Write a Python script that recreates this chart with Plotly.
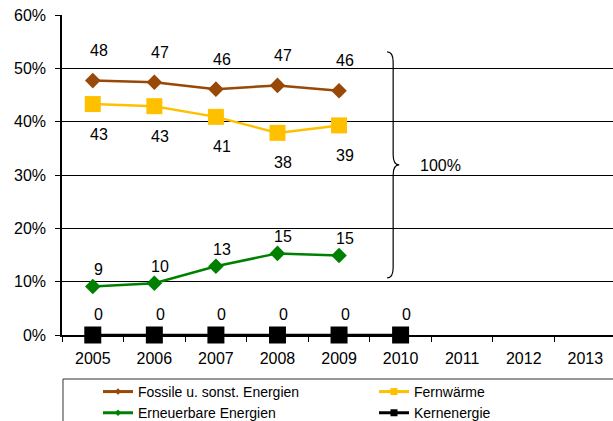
import plotly.graph_objects as go

years = ["2005", "2006", "2007", "2008", "2009", "2010", "2011", "2012", "2013"]
fossil = [47.7, 47.4, 46.1, 46.8, 45.8]
fossil_lbl = ["48", "47", "46", "47", "46"]
fern = [43.3, 42.9, 40.9, 37.9, 39.3]
fern_lbl = ["43", "43", "41", "38", "39"]
erneu = [9.1, 9.7, 12.9, 15.3, 14.9]
erneu_lbl = ["9", "10", "13", "15", "15"]
kern = [0, 0, 0, 0, 0, 0]
kern_lbl = ["0", "0", "0", "0", "0", "0"]

FONT = "Liberation Sans, Arial, sans-serif"

series = [
    ("Fossile u. sonst. Energien", fossil, fossil_lbl, "#984807", "diamond", 12, -30, "legend"),
    ("Fernwärme", fern, fern_lbl, "#FFC000", "square", 16, 30, "legend2"),
    ("Erneuerbare Energien", erneu, erneu_lbl, "#008000", "diamond", 12, -17, "legend"),
    ("Kernenergie", kern, kern_lbl, "#000000", "square", 17, -21, "legend2"),
]

fig = go.Figure()
annotations = []
for name, vals, lbls, color, sym, size, shift, lg in series:
    xs = years[:len(vals)]
    fig.add_trace(go.Scatter(
        x=xs, y=vals, mode="lines+markers", name=name, showlegend=False,
        line=dict(color=color, width=2.5),
        marker=dict(symbol=sym, size=size, color=color),
        cliponaxis=False, hoverinfo="skip",
    ))
    for i, (yv, t) in enumerate(zip(vals, lbls)):
        annotations.append(dict(
            x=i, y=yv, xref="x", yref="y", text=t, showarrow=False,
            xshift=6, yshift=-shift, font=dict(family=FONT, size=16, color="black"),
        ))

# legend-only traces with small markers
for name, vals, lbls, color, sym, size, shift, lg in series:
    fig.add_trace(go.Scatter(
        x=[None], y=[None], mode="lines+markers", name=name, legend=lg,
        line=dict(color=color, width=3),
        marker=dict(symbol=sym, size=5 if sym == "diamond" else 7, color=color),
    ))

# brace and 100% label
brace = ("M 0.590,53.1 Q 0.601,53.1 0.601,51.2 L 0.601,33.8 "
         "Q 0.601,31.9 0.612,31.9 Q 0.601,31.9 0.601,30.0 L 0.601,12.6 "
         "Q 0.601,10.7 0.590,10.7")
fig.add_shape(type="path", path=brace, xref="paper", yref="y",
              line=dict(color="black", width=1.2))
annotations.append(dict(x=0.646, y=31.8, xref="paper", yref="y", text="100%",
                        showarrow=False, xanchor="left",
                        font=dict(family=FONT, size=16, color="black")))

# legend frame
fig.add_shape(type="rect", xref="paper", yref="paper", x0=0.0018, x1=1.2,
              y0=-0.1375, y1=-0.35, line=dict(color="#333333", width=1),
              fillcolor="rgba(0,0,0,0)", layer="below")

leg_common = dict(
    orientation="v", yanchor="top", y=-0.128, xanchor="left",
    bgcolor="rgba(0,0,0,0)", borderwidth=0,
    font=dict(family=FONT, size=14, color="black"), traceorder="normal",
)

fig.update_layout(
    width=613, height=421,
    margin=dict(l=62, r=0, t=15, b=86, autoexpand=False),
    paper_bgcolor="white", plot_bgcolor="white",
    font=dict(family=FONT, size=16, color="black"),
    annotations=annotations,
    showlegend=True,
    hovermode=False,
    legend=dict(x=(98 - 62) / 551, **leg_common),
    legend2=dict(x=(374 - 62) / 551, **leg_common),
    xaxis=dict(
        type="category", categoryorder="array", categoryarray=years,
        range=[-0.5, 8.45], showgrid=False, showline=True, linecolor="black",
        linewidth=1.5, ticks="outside", tickson="boundaries", ticklen=5,
        tickcolor="black", tickfont=dict(family=FONT, size=16, color="black"),
        ticklabelstandoff=8, fixedrange=True,
    ),
    yaxis=dict(
        range=[0, 60], dtick=10, ticksuffix="%", showgrid=True, gridcolor="black",
        gridwidth=1, showline=True, linecolor="black", linewidth=1.5,
        ticks="outside", ticklen=5, tickcolor="black", zeroline=False,
        tickfont=dict(family=FONT, size=16, color="black"),
        ticklabelstandoff=6, fixedrange=True,
    ),
)

fig.write_html(
    "out.html",
    config={"displayModeBar": False, "staticPlot": False},
    post_script="document.body.style.margin='0';document.body.style.overflow='hidden';",
)
